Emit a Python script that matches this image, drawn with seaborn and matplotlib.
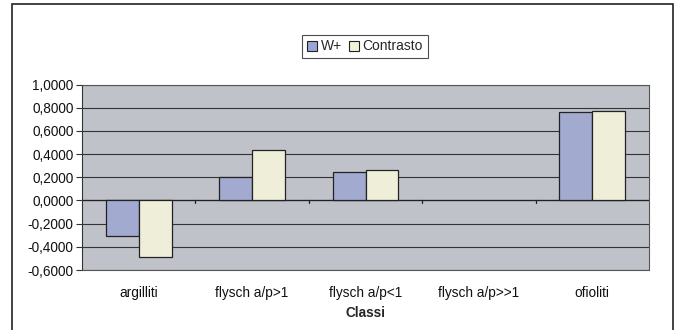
import matplotlib
matplotlib.use("Agg")
import matplotlib.pyplot as plt
import seaborn as sns
import pandas as pd
from matplotlib.patches import Rectangle
from matplotlib.ticker import FuncFormatter, MultipleLocator

categories = ["argilliti", "flysch a/p>1", "flysch a/p<1", "flysch a/p>>1", "ofioliti"]
w_plus = [-0.305, 0.200, 0.242, 0.0, 0.760]
contrasto = [-0.490, 0.438, 0.259, 0.0, 0.772]
series = ["W+", "Contrasto"]
colors = ["#9AA6D6", "#F3F3D5"]

df = pd.DataFrame({
    "Classi": categories * 2,
    "valore": w_plus + contrasto,
    "serie": [series[0]] * len(categories) + [series[1]] * len(categories),
})

sns.set_style("white")
plt.rcParams["font.family"] = ["Liberation Sans", "DejaVu Sans"]

W, H = 676, 330
fig = plt.figure(figsize=(W / 100, H / 100), dpi=100)
ax = fig.add_axes([82 / W, 1 - 270 / H, (649 - 82) / W, (270 - 84.5) / H])
ax.set_facecolor("#C0C2CA")

sns.barplot(data=df, x="Classi", y="valore", hue="serie", palette=colors,
            width=0.58, gap=0, edgecolor="#222222", linewidth=0.9,
            ax=ax, legend=False, zorder=3)

# bars of zero height carry no visible outline
for p in ax.patches:
    if abs(p.get_height()) < 1e-9:
        p.set_visible(False)

ax.set_ylim(-0.6, 1.0)
ax.set_xlim(-0.5, len(categories) - 0.5)
ax.yaxis.set_major_locator(MultipleLocator(0.2))
ax.yaxis.set_major_formatter(FuncFormatter(lambda v, p: f"{v:.4f}".replace(".", ",").replace("-0,0000", "0,0000")))
ax.grid(axis="y", color="#333333", linewidth=0.8, zorder=0)
ax.set_axisbelow(True)

for s in ["top", "right", "bottom"]:
    ax.spines[s].set_color("#555555")
    ax.spines[s].set_linewidth(0.8)
ax.spines["left"].set_color("#333333")

ax.axhline(0, color="#222222", linewidth=0.9, zorder=2)
for b in range(1, len(categories)):
    ax.plot([b - 0.5, b - 0.5], [0, -0.025], color="#222222", linewidth=0.9,
            zorder=2, clip_on=False)

ax.tick_params(axis="y", left=True, length=4, width=0.8, color="#333333",
               labelsize=9.8, pad=2, labelcolor="#111111")
ax.tick_params(axis="x", bottom=False, labelsize=9.8, pad=8, labelcolor="#111111")
ax.set_ylabel("")
ax.set_xlabel("Classi", fontsize=9.8, fontweight="bold", labelpad=4)

handles = [Rectangle((0, 0), 1, 1, facecolor=c, edgecolor="#222222", linewidth=0.8) for c in colors]
leg = fig.legend(handles, series, loc="center", bbox_to_anchor=(365 / W, 1 - 46.5 / H),
                 ncol=2, frameon=True, fancybox=False, fontsize=10,
                 handlelength=0.7, handleheight=0.7, handletextpad=0.3,
                 columnspacing=0.5, borderpad=0.35, edgecolor="#222222")
leg.get_frame().set_linewidth(0.8)

fig.patches.append(Rectangle((12 / W, -0.05), (673 - 12) / W, 1 - 4 / H + 0.05,
                             transform=fig.transFigure, fill=False,
                             edgecolor="#222222", linewidth=1.2))

fig.savefig("out.png", dpi=100)
